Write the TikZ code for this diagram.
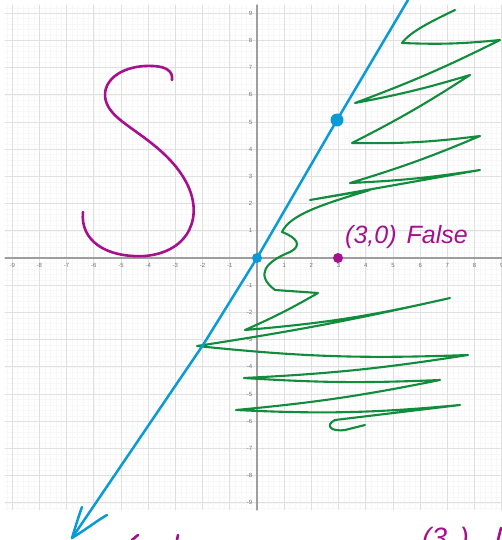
\documentclass[tikz,border=0pt]{standalone}
\usepackage{fontspec}
\setmainfont{Liberation Sans}
\begin{document}
\begin{tikzpicture}[x=1pt,y=-1pt,line cap=round,line join=round]
\definecolor{pen}{RGB}{166,16,140}
\definecolor{bl}{RGB}{10,155,215}
\definecolor{gr}{RGB}{16,140,60}
\tikzset{minorgrid/.style={draw=black!3,line width=0.3pt},
majorgrid/.style={draw=black!12,line width=0.8pt},
axisline/.style={draw=black!38,line width=1.4pt},
ticklab/.style={font=\fontsize{6}{6}\selectfont,text=black!55,inner sep=0pt},
pencurve/.style={draw=pen,line width=2.6pt},
blueline/.style={draw=bl,line width=2.5pt},
greenline/.style={draw=gr,line width=2.1pt},
dotmark/.style={circle,inner sep=0pt}}
\useasboundingbox (0,0) rectangle (502,540);
\clip (0,0) rectangle (502,540);
\fill[white] (0,0) rectangle (502,540);
\begin{scope}[shift={(257,258)},x=27.2pt,y=27.2pt]
\draw[minorgrid,step=0.2] (-9.26,-9.26) grid (9.4,9.3);
\draw[majorgrid,step=1] (-9.26,-9.26) grid (9.4,9.3);
\draw[axisline] (-9.26,0) -- (9.4,0);
\draw[axisline] (0,-9.26) -- (0,9.3);
\foreach \i in {-9,...,-1,1,2,...,9}{
  \node[ticklab] (xl\i) at (\i,-0.27) {\i};
  \node[ticklab,anchor=east] (yl\i) at (-0.17,\i) {\i};
}
\end{scope}
% S curve
\draw[pencurve] (83,212) .. controls (80,240) and (105,258) .. (145,256)
 .. controls (190,252) and (205,215) .. (185,180)
 .. controls (165,145) and (125,128) .. (112,112)
 .. controls (95,92) and (110,68) .. (145,66)
 .. controls (168,65) and (173,72) .. (172,80);
% green scribble
\draw[greenline] (455,10) .. controls (430,22) and (410,32) .. (402,43)
 to[bend right=4] (500,40) to[bend left=3] (355,103) to[bend right=3] (470,75)
 to[bend left=3] (352,143) to[bend right=4] (480,136)
 to[bend left=3] (350,183) to[bend right=3] (480,170) -- (310,200) -- (370,190)
 .. controls (320,205) and (290,215) .. (282,232)
 .. controls (298,238) and (302,246) .. (290,252)
 .. controls (265,262) and (255,275) .. (275,290) -- (318,293)
 to[bend left=3] (245,330) to[bend right=4] (450,298) to[bend left=2] (197,346)
 to[bend right=4] (468,355) to[bend left=3] (244,378)
 to[bend right=3] (440,380) to[bend left=3] (236,410) to[bend right=4] (460,405) -- (335,420)
 .. controls (325,425) and (330,432) .. (345,430) -- (365,425);
% blue line
\coordinate (btop) at (408,0);
\coordinate (btip) at (72,538);
\node[dotmark,fill=bl,minimum width=11pt,minimum height=13pt] (p1) at (337,120) {};
\node[dotmark,fill=bl,minimum size=10pt] (p0) at (257,258) {};
\draw[blueline] (btop) -- (p1.center) -- (p0.center) -- (203,345) -- (btip);
\draw[blueline] (btip) .. controls (76,525) and (79,515) .. (82,507);
\draw[blueline] (btip) .. controls (88,528) and (98,520) .. (107,515);
% magenta point and text
\node[dotmark,fill=pen,minimum size=10pt] (p30) at (338,258) {};
\node[text=pen,font=\fontsize{25}{25}\selectfont\itshape,anchor=base west,inner sep=0pt] (lab) at (345,243) {(3,0)\hspace{10pt}False};
\node[text=pen,font=\fontsize{28}{28}\selectfont\itshape,anchor=base west,inner sep=0pt] (lab2) at (422,547) {(3,\,)};
\coordinate (m1a) at (132,540);
\coordinate (m1b) at (138,535);
\coordinate (m2a) at (177,540);
\coordinate (m2b) at (178,535);
\coordinate (m3a) at (498,540);
\coordinate (m3b) at (501,528);
\draw[pencurve] (m1a) -- (m1b);
\draw[pencurve] (m2a) -- (m2b);
\draw[pencurve] (m3a) -- (m3b);
\end{tikzpicture}
\end{document}
